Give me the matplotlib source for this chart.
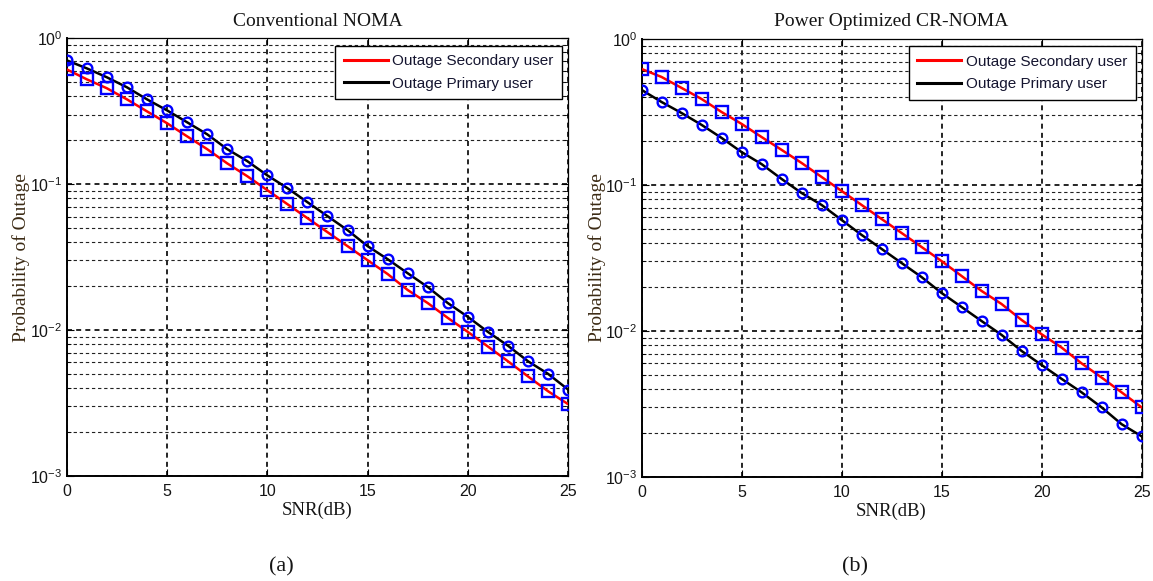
import matplotlib
matplotlib.use("Agg")
import matplotlib.pyplot as plt
from matplotlib.ticker import FixedLocator, LogLocator, NullFormatter, FuncFormatter
import numpy as np

plt.rcParams['font.family'] = ['Liberation Sans', 'DejaVu Sans']
plt.rcParams['mathtext.default'] = 'regular'

# SNR grid (dB)
snr_db = [0, 1, 2, 3, 4, 5, 6, 7, 8, 9, 10, 11, 12, 13,
          14, 15, 16, 17, 18, 19, 20, 21, 22, 23, 24, 25]

# (a) conventional NOMA
noma_secondary = [0.613, 0.524, 0.455, 0.382, 0.316, 0.262, 0.213, 0.174, 0.139,
                  0.1135, 0.091, 0.073, 0.0585, 0.0469, 0.0376, 0.0301, 0.0242,
                  0.0188, 0.0153, 0.0121, 0.0097, 0.0077, 0.0061, 0.0048, 0.0038, 0.0031]
noma_primary = [0.707, 0.623, 0.541, 0.462, 0.382, 0.321, 0.266, 0.220, 0.174,
                0.144, 0.115, 0.094, 0.0753, 0.0604, 0.0484, 0.0376, 0.0306,
                0.0245, 0.0197, 0.0153, 0.0123, 0.0097, 0.0078, 0.0061, 0.0050, 0.0039]

# (b) power optimized CR-NOMA
cr_secondary = [0.623, 0.549, 0.462, 0.388, 0.316, 0.262, 0.213, 0.174, 0.1415,
                0.1135, 0.091, 0.073, 0.0585, 0.0469, 0.0376, 0.0301, 0.0238,
                0.0188, 0.0153, 0.0119, 0.0095, 0.0077, 0.0060, 0.0048, 0.0038, 0.0030]
cr_primary = [0.448, 0.370, 0.311, 0.258, 0.210, 0.168, 0.139, 0.110, 0.0881,
              0.073, 0.0576, 0.0455, 0.0365, 0.0292, 0.0234, 0.0182, 0.0146,
              0.0117, 0.0094, 0.0073, 0.00585, 0.0047, 0.0038, 0.0030, 0.0023, 0.0019]

titles = ['Conventional NOMA', 'Power Optimized CR-NOMA']
panel_tags = ['(a)', '(b)']
legend_labels = ['Outage Secondary user', 'Outage Primary user']

serif = 'Liberation Serif'


def decade_label(v, pos):
    e = int(round(np.log10(v)))
    return r'$10^{%d}$' % e


def draw_panel(ax, sec, pri, title, ylab_x):
    ax.plot(snr_db, sec, color='#ff0000', lw=1.8, label=legend_labels[0], zorder=3)
    ax.plot(snr_db, pri, color='black', lw=1.8, label=legend_labels[1], zorder=3)
    ax.plot(snr_db, sec, ls='none', marker='s', ms=8, mfc='none', mec='#0000ff',
            mew=1.7, zorder=4)
    ax.plot(snr_db, pri, ls='none', marker='o', ms=7, mfc='none', mec='#0000ff',
            mew=1.7, zorder=4)

    ax.set_yscale('log')
    ax.set_xlim(0, 25)
    ax.set_ylim(1e-3, 1)
    ax.xaxis.set_major_locator(FixedLocator([0, 5, 10, 15, 20, 25]))
    ax.yaxis.set_major_locator(FixedLocator([1e-3, 1e-2, 1e-1, 1]))
    ax.yaxis.set_minor_locator(LogLocator(base=10, subs=np.arange(2, 10)))
    ax.yaxis.set_major_formatter(FuncFormatter(decade_label))
    ax.yaxis.set_minor_formatter(NullFormatter())

    ax.grid(True, which='major', axis='both', color='black', lw=1.2,
            ls=(0, (3, 2.5)))
    ax.grid(True, which='minor', axis='y', color='#222222', lw=0.8,
            ls=(0, (3, 2.5)))

    ax.tick_params(which='both', direction='in', top=True, right=True,
                   colors='black', labelcolor='#151515', labelsize=11.5)
    ax.tick_params(which='major', length=5, width=0.8)
    ax.tick_params(which='minor', length=3, width=0.6)
    ax.tick_params(axis='x', pad=6)
    ax.tick_params(axis='y', pad=3)
    for side in ['top', 'right']:
        ax.spines[side].set_linewidth(0.9)
    for side in ['left', 'bottom']:
        ax.spines[side].set_linewidth(1.4)

    ax.set_title(title, fontfamily=serif, fontsize=14, color='#151515', pad=9)
    ax.set_xlabel('SNR(dB)', fontfamily=serif, fontsize=13.5, color='#151515',
                  labelpad=2)
    ax.set_ylabel('Probability of Outage', fontfamily=serif, fontsize=14,
                  color='#3b2a14')
    ax.yaxis.set_label_coords(ylab_x, 0.5)

    leg = ax.legend(loc='upper right', bbox_to_anchor=(0.988, 0.983),
                    borderaxespad=0, fontsize=11, fancybox=False,
                    framealpha=1, edgecolor='black', handlelength=2.9,
                    handletextpad=0.3, labelspacing=0.55, borderpad=0.55)
    leg.get_frame().set_linewidth(1.0)
    for line in leg.get_lines():
        line.set_linewidth(2.2)
    for txt in leg.get_texts():
        txt.set_color('#151530')


fig = plt.figure(figsize=(11.53, 5.81), dpi=100)
ax_a = fig.add_axes([0.0578, 0.181, 0.435, 0.753])
ax_b = fig.add_axes([0.5564, 0.179, 0.4337, 0.754])

draw_panel(ax_a, noma_secondary, noma_primary, titles[0], -0.074)
draw_panel(ax_b, cr_secondary, cr_primary, titles[1], -0.072)

fig.text(281 / 1153, 1 - 567 / 581, panel_tags[0], ha='center', va='center',
         fontfamily=serif, fontsize=16, color='#151515')
fig.text(855 / 1153, 1 - 567 / 581, panel_tags[1], ha='center', va='center',
         fontfamily=serif, fontsize=16, color='#151515')

fig.savefig('out.png', dpi=100)
